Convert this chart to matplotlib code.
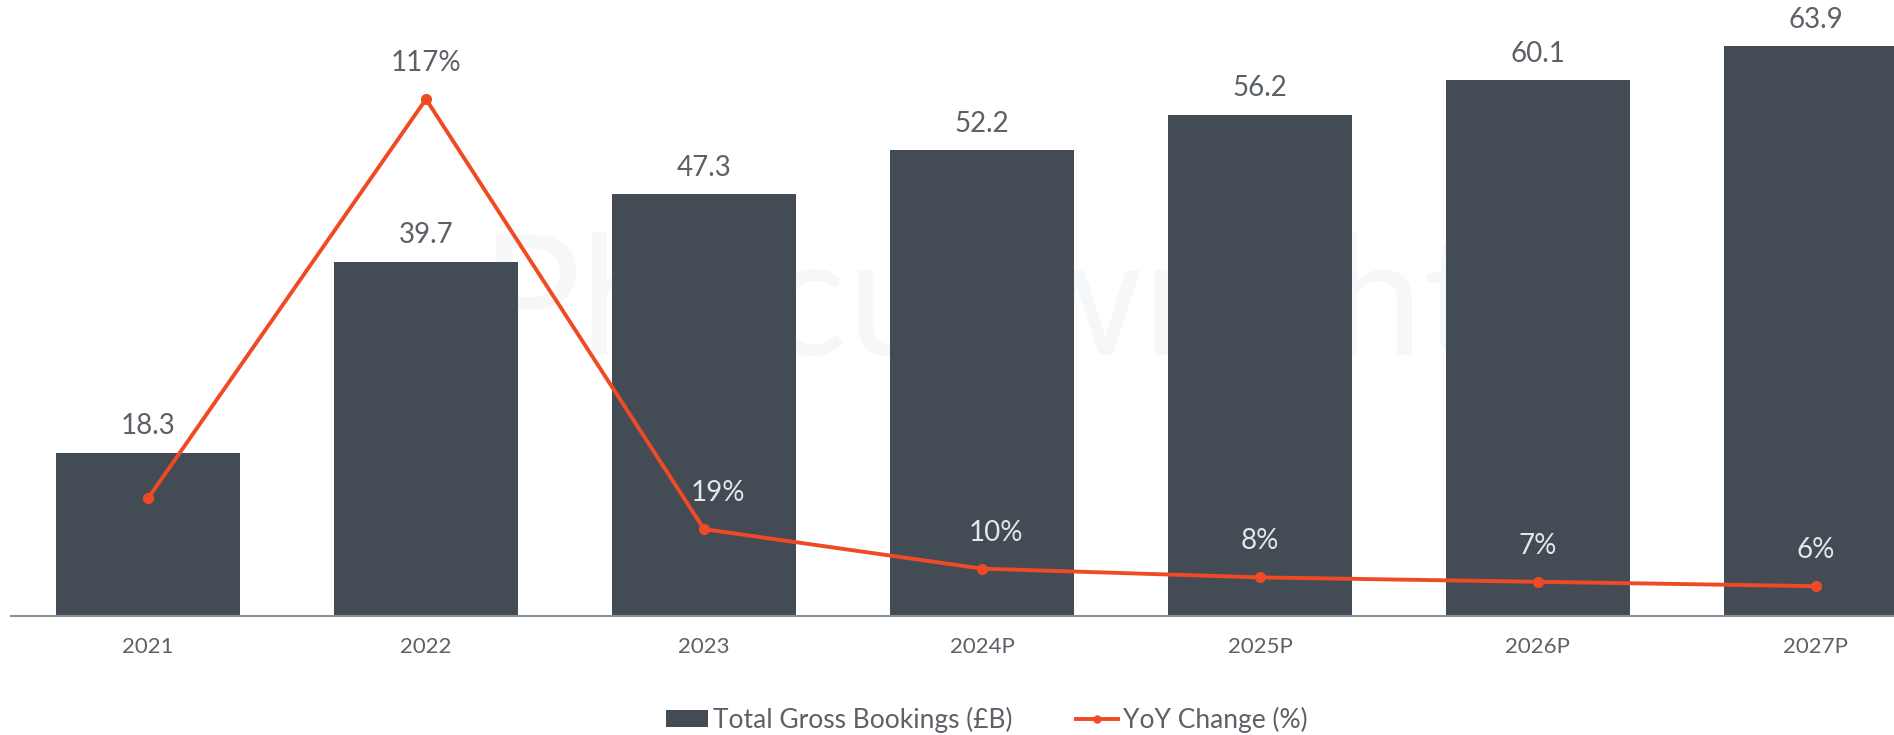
import numpy as np
import matplotlib.pyplot as plt
from matplotlib.lines import Line2D
from matplotlib.patches import Patch

plt.rcParams['font.family'] = 'Lato'

# data
years = ['2021', '2022', '2023', '2024P', '2025P', '2026P', '2027P']
bookings = [18.3, 39.7, 47.3, 52.2, 56.2, 60.1, 63.9]
yoy = [26, 117, 19, 10, 8, 7, 6]
yoy_labels = ['', '117%', '19%', '10%', '8%', '7%', '6%']

bar_color = '#434c55'
line_color = '#f04a25'
text_color = '#5b6167'
light_text = '#e4e6e8'

fig = plt.figure(figsize=(18.94, 7.35), dpi=100)
ax = fig.add_axes([0.0058, 0.1619, 0.9942, 0.8381])

x = np.arange(len(years))
ax.bar(x, bookings, width=0.66, color=bar_color, zorder=2)
for xi, v in zip(x, bookings):
    ax.annotate(f'{v:.1f}', (xi, v), xytext=(0, 19), textcoords='offset points',
                ha='center', va='center', fontsize=20, color=text_color)

# faint watermark, sits behind the bars
ax.text(3.0, 34.5, 'Phocuswright', fontsize=120, color='#f6f7f9', ha='center',
        va='center', zorder=0)

ax.set_xlim(-0.493, 6.281)
ax.set_ylim(0, 69.06)
for s in ['top', 'right', 'left']:
    ax.spines[s].set_visible(False)
ax.spines['bottom'].set_color('#8a9096')
ax.spines['bottom'].set_linewidth(1.5)
ax.set_yticks([])
ax.set_xticks(x)
ax.set_xticklabels(years)
ax.tick_params(axis='x', length=0, pad=15, labelsize=16, labelcolor=text_color)

ax2 = ax.twinx()
ax2.plot(x, yoy, color=line_color, lw=2.8, marker='o', markersize=7, zorder=3)
for xi, v, lab in zip(x, yoy, yoy_labels):
    if not lab:
        continue
    # labels that fall on a bar are drawn light; steep drops push the label right
    on_bar = v < 60
    dx = 10 if 9 < v < 60 else 0
    ax2.annotate(lab, (xi, v), xytext=(dx, 26), textcoords='offset points',
                 ha='center', va='center', fontsize=20,
                 color=light_text if on_bar else text_color)
ax2.set_ylim(-0.8, 139.6)
ax2.set_yticks([])
for s in ax2.spines.values():
    s.set_visible(False)

handles = [Patch(facecolor=bar_color),
           Line2D([0], [0], color=line_color, lw=2.8, marker='o', markersize=5)]
fig.legend(handles, ['Total Gross Bookings (£B)', 'YoY Change (%)'],
           loc='center', bbox_to_anchor=(0.521, 0.0204), ncol=2, frameon=False,
           fontsize=19, labelcolor=text_color, handlelength=1.6, handleheight=0.6,
           handletextpad=0.2, columnspacing=2.4)

fig.savefig('out.png', dpi=100)
